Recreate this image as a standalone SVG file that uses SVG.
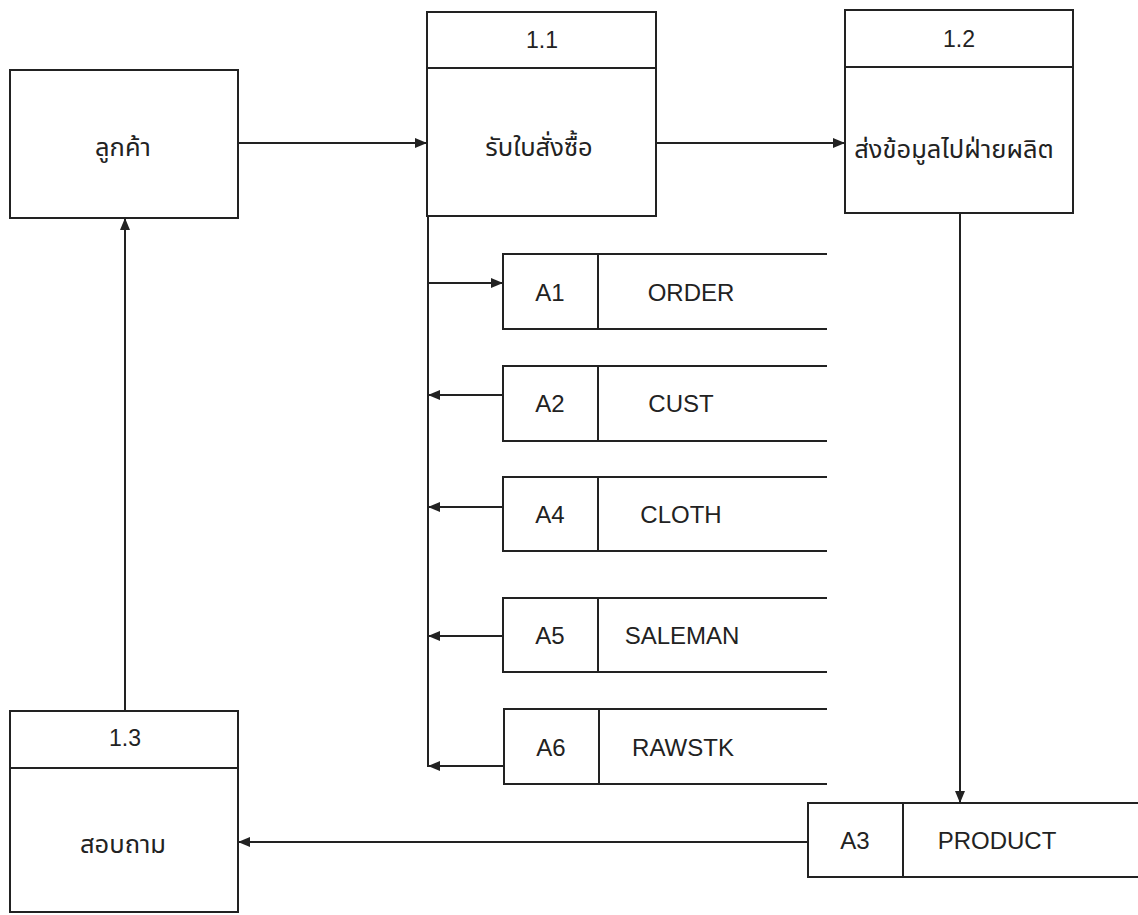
<svg xmlns="http://www.w3.org/2000/svg" width="1138" height="915" viewBox="0 0 1138 915">
<style>
.b{fill:#fff;stroke:#222;stroke-width:2}
.l{fill:none;stroke:#222;stroke-width:2}
.t{font-family:"Liberation Sans","Noto Sans Thai","Noto Sans",sans-serif;font-size:24px;fill:#222;text-anchor:middle}
.n{font-family:"Liberation Sans","Noto Sans",sans-serif;font-size:23px;fill:#222;text-anchor:middle}
.th{font-family:"Noto Sans Thai","Liberation Sans","Noto Sans",sans-serif;font-size:25.5px;fill:#222;text-anchor:middle}
</style>
<defs>
<marker id="ah" viewBox="0 0 12 10" refX="12" refY="5" markerWidth="12" markerHeight="10" markerUnits="userSpaceOnUse" orient="auto">
<path d="M0,0 L12,5 L0,10 z" fill="#222"/>
</marker>
</defs>
<rect width="1138" height="915" fill="#fff"/>
<g id="customer">
<rect class="b" x="10" y="70" width="228" height="148"/>
<text class="th" x="123" y="156">ลูกค้า</text>
</g>
<g id="p1_1">
<rect class="b" x="427" y="12" width="229" height="204"/>
<line class="l" x1="427" y1="68" x2="656" y2="68"/>
<text class="n" x="542" y="48">1.1</text>
<text class="th" x="539" y="156">รับใบสั่งซื้อ</text>
</g>
<g id="p1_2">
<rect class="b" x="845" y="10" width="228" height="203"/>
<line class="l" x1="845" y1="67" x2="1073" y2="67"/>
<text class="n" x="959" y="47">1.2</text>
<text class="th" x="954" y="158">ส่งข้อมูลไปฝ่ายผลิต</text>
</g>
<g id="p1_3">
<rect class="b" x="10" y="711" width="228" height="201"/>
<line class="l" x1="10" y1="768" x2="238" y2="768"/>
<text class="n" x="125" y="746">1.3</text>
<text class="th" x="123" y="853">สอบถาม</text>
</g>
<g id="A1">
<path class="l" d="M827,254 H503 V329 H827 M598,254 V329"/>
<text class="t" x="550" y="301">A1</text>
<text class="t" x="691" y="301">ORDER</text>
</g>
<g id="A2">
<path class="l" d="M827,366 H503 V441 H827 M598,366 V441"/>
<text class="t" x="550" y="412">A2</text>
<text class="t" x="681" y="412">CUST</text>
</g>
<g id="A4">
<path class="l" d="M827,477 H503 V551 H827 M598,477 V551"/>
<text class="t" x="550" y="523">A4</text>
<text class="t" x="681" y="523">CLOTH</text>
</g>
<g id="A5">
<path class="l" d="M827,598 H503 V672 H827 M598,598 V672"/>
<text class="t" x="550" y="644">A5</text>
<text class="t" x="682" y="644">SALEMAN</text>
</g>
<g id="A6">
<path class="l" d="M827,709 H504 V784 H827 M599,709 V784"/>
<text class="t" x="551" y="756">A6</text>
<text class="t" x="683" y="756">RAWSTK</text>
</g>
<g id="A3">
<path class="l" d="M1138,803 H808 V877 H1138 M903,803 V877"/>
<text class="t" x="855" y="849">A3</text>
<text class="t" x="997" y="849">PRODUCT</text>
</g>
<g id="connectors">
<line class="l" x1="238" y1="143" x2="427" y2="143" marker-end="url(#ah)"/>
<line class="l" x1="656" y1="143" x2="845" y2="143" marker-end="url(#ah)"/>
<line class="l" x1="960" y1="213" x2="960" y2="803" marker-end="url(#ah)"/>
<line class="l" x1="808" y1="842" x2="238" y2="842" marker-end="url(#ah)"/>
<line class="l" x1="125" y1="711" x2="125" y2="218" marker-end="url(#ah)"/>
<line class="l" x1="428" y1="216" x2="428" y2="767"/>
<line class="l" x1="428" y1="283" x2="503" y2="283" marker-end="url(#ah)"/>
<line class="l" x1="503" y1="395" x2="428" y2="395" marker-end="url(#ah)"/>
<line class="l" x1="503" y1="507" x2="428" y2="507" marker-end="url(#ah)"/>
<line class="l" x1="503" y1="636" x2="428" y2="636" marker-end="url(#ah)"/>
<line class="l" x1="504" y1="766" x2="428" y2="766" marker-end="url(#ah)"/>
</g>
</svg>
